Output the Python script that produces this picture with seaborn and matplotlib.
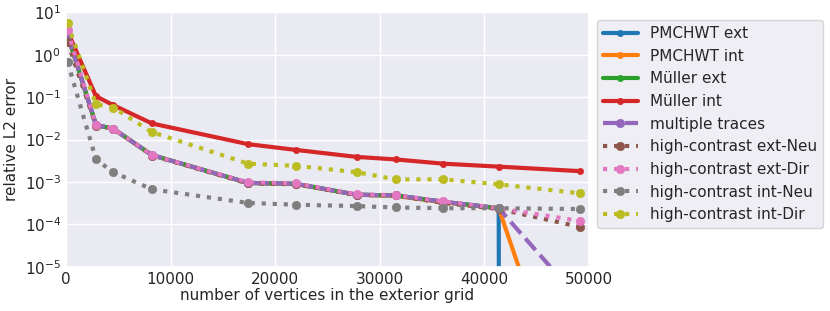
import numpy as np
import pandas as pd
import matplotlib
matplotlib.use("Agg")
import matplotlib.pyplot as plt
import seaborn as sns

# number of vertices in the exterior grid
vertices = [150, 2870, 4520, 8220, 17400, 21990, 27790, 31520, 36070, 41370, 49140]

pmchwt_ext = [3.0, 0.022, 0.018, 0.0043, 0.00095, 0.00090, 0.00050, 0.00048, 0.00034, 0.00024, 0.0]
pmchwt_int = [3.0, 0.022, 0.018, 0.0043, 0.00095, 0.00089, 0.00050, 0.00047, 0.00033, 0.00024, 5.6e-10]
muller_ext = [3.0, 0.022, 0.018, 0.0043, 0.00095, 0.00090, 0.00050, 0.00048, 0.00034, 0.00024, np.nan]
muller_int = [3.6, 0.105, 0.065, 0.024, 0.0078, 0.0057, 0.0039, 0.0034, 0.0027, 0.0023, 0.0018]
multi_trace = [3.0, 0.022, 0.018, 0.0043, 0.00095, 0.00090, 0.00050, 0.00048, 0.00034, 0.00024, 1.6e-6]
hc_ext_neu = [2.0, 0.021, 0.018, 0.0042, 0.00092, 0.00089, 0.00049, 0.00048, 0.00032, 0.00023, 8.7e-5]
hc_ext_dir = [3.8, 0.022, 0.018, 0.0043, 0.00098, 0.00093, 0.00051, 0.00049, 0.00035, 0.00024, 1.2e-4]
hc_int_neu = [0.68, 0.0034, 0.0017, 0.00067, 0.00032, 0.00029, 0.00027, 0.00025, 0.00024, 0.00024, 0.00023]
hc_int_dir = [5.5, 0.068, 0.057, 0.015, 0.0027, 0.0024, 0.0017, 0.00115, 0.00115, 0.00088, 0.00054]

series = [
    ("PMCHWT ext", pmchwt_ext, "-"),
    ("PMCHWT int", pmchwt_int, "-"),
    ("Müller ext", muller_ext, "-"),
    ("Müller int", muller_int, "-"),
    ("multiple traces", multi_trace, "--"),
    ("high-contrast ext-Neu", hc_ext_neu, ":"),
    ("high-contrast ext-Dir", hc_ext_dir, ":"),
    ("high-contrast int-Neu", hc_int_neu, ":"),
    ("high-contrast int-Dir", hc_int_dir, ":"),
]

sns.set_theme(style="darkgrid")
plt.rcParams['font.family'] = ['DejaVu Sans']

fig, ax = plt.subplots(figsize=(8.3, 3.11), dpi=100)
fig.subplots_adjust(left=0.0795, right=0.7096, top=0.960, bottom=0.1424)

colors = sns.color_palette("tab10", 9)
for (name, vals, ls), col in zip(series, colors):
    df = pd.DataFrame({"x": vertices, "y": vals})
    ms = 4.5 if ls == "-" else 6
    sns.lineplot(data=df, x="x", y="y", ax=ax, color=col, label=name,
                 linestyle=ls, lw=3, marker="o", markersize=ms,
                 mec=col, mfc=col, mew=0.5, sort=False, legend=False)

ax.set_yscale("log")
ax.set_xlim(0, 50000)
ax.set_ylim(1e-5, 1e1)
ax.set_xticks([0, 10000, 20000, 30000, 40000, 50000])
ax.tick_params(labelsize=11, length=0, pad=3.5)
ax.set_xlabel("number of vertices in the exterior grid", fontsize=11, labelpad=1)
ax.set_ylabel("relative L2 error", fontsize=11, labelpad=4)

ax.legend(loc="upper left", bbox_to_anchor=(1.0, 1.0), fontsize=11, handlelength=2.3)

fig.savefig("out.png", dpi=100)
